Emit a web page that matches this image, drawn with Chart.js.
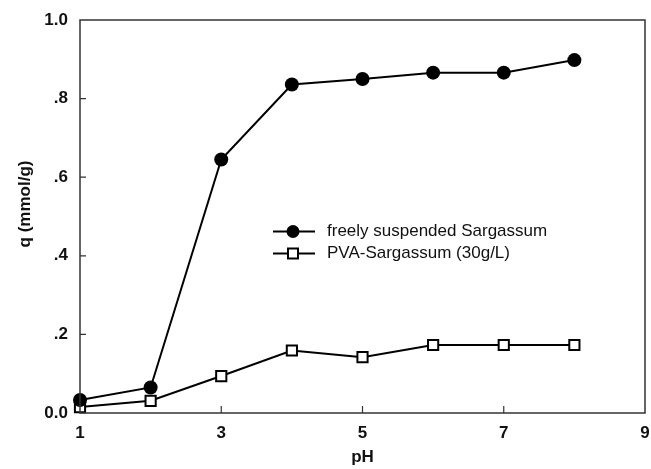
<!DOCTYPE html>
<html>
<head>
<meta charset="utf-8">
<script src="https://cdn.jsdelivr.net/npm/chart.js@4"></script>
<style>
html,body{margin:0;padding:0;background:#fff;overflow:hidden;}
#wrap{width:651px;height:469px;position:relative;}
canvas{display:block;}
</style>
</head>
<body>
<div id="wrap"><canvas id="c" width="651" height="469"></canvas></div>
<script>
const phValues = [1, 2, 3, 4, 5, 6, 7, 8];
const freelySuspended = [0.033, 0.065, 0.645, 0.836, 0.850, 0.866, 0.866, 0.898];
const pvaSargassum = [0.015, 0.031, 0.094, 0.159, 0.142, 0.173, 0.173, 0.173];
const seriesLabels = ['freely suspended Sargassum', 'PVA-Sargassum (30g/L)'];
const xTickLabels = ['1', '3', '5', '7', '9'];
const yTickLabels = ['0.0', '.2', '.4', '.6', '.8', '1.0'];
const xTitle = 'pH';
const yTitle = 'q (mmol/g)';

const toPoints = (ys) => phValues.map((x, i) => ({x: x, y: ys[i]}));
const AXIS_COLOR = '#333';
const FONT = '"Liberation Sans", Arial, sans-serif';

const framePlugin = {
  id: 'frame',
  afterDraw(chart) {
    const ctx = chart.ctx;
    const a = chart.chartArea;
    const xs = chart.scales.x, ys = chart.scales.y;
    ctx.save();
    ctx.strokeStyle = AXIS_COLOR;
    ctx.lineWidth = 1.5;
    ctx.strokeRect(a.left, a.top, a.right - a.left, a.bottom - a.top);
    ctx.lineWidth = 1.2;
    ctx.beginPath();
    xs.ticks.forEach(t => {
      const px = xs.getPixelForValue(t.value);
      if (px > a.left + 1 && px < a.right - 1) {
        ctx.moveTo(px, a.bottom); ctx.lineTo(px, a.bottom - 7);
      }
    });
    ys.ticks.forEach(t => {
      const py = ys.getPixelForValue(t.value);
      if (py > a.top + 1 && py < a.bottom - 1) {
        ctx.moveTo(a.left, py); ctx.lineTo(a.left + 6, py);
      }
    });
    ctx.stroke();
    // x tick labels
    ctx.fillStyle = '#111';
    ctx.font = 'bold 17px ' + FONT;
    ctx.textAlign = 'center';
    ctx.textBaseline = 'middle';
    xs.ticks.forEach(t => {
      const i = xTickLabels.indexOf(String(t.value));
      if (i >= 0) ctx.fillText(xTickLabels[i], xs.getPixelForValue(t.value), a.bottom + 20);
    });
    // axis titles
    ctx.fillText(xTitle, (a.left + a.right) / 2, 457);
    ctx.save();
    ctx.translate(25, 204);
    ctx.rotate(-Math.PI / 2);
    ctx.fillText(yTitle, 0, 0);
    ctx.restore();
    // legend
    const rows = [231.5, 253.5];
    chart.data.datasets.forEach((ds, i) => {
      const y = rows[i];
      ctx.strokeStyle = '#000';
      ctx.lineWidth = 2;
      ctx.beginPath();
      ctx.moveTo(273, y); ctx.lineTo(315, y);
      ctx.stroke();
      if (ds.pointStyle === 'circle') {
        ctx.fillStyle = '#000';
        ctx.beginPath();
        ctx.arc(293, y, 6.5, 0, Math.PI * 2);
        ctx.fill();
      } else {
        ctx.fillStyle = '#fff';
        ctx.fillRect(288, y - 5, 10, 10);
        ctx.strokeRect(288, y - 5, 10, 10);
      }
      ctx.fillStyle = '#111';
      ctx.font = '17px ' + FONT;
      ctx.textAlign = 'left';
      ctx.textBaseline = 'middle';
      ctx.fillText(ds.label, 327, y);
    });
    ctx.restore();
  }
};

new Chart(document.getElementById('c'), {
  type: 'line',
  data: {
    datasets: [
      {
        label: seriesLabels[0],
        data: toPoints(freelySuspended),
        borderColor: '#000',
        borderWidth: 2,
        backgroundColor: '#000',
        pointStyle: 'circle',
        pointRadius: 7,
        pointBorderWidth: 0,
        pointBackgroundColor: '#000',
        tension: 0,
        clip: false
      },
      {
        label: seriesLabels[1],
        data: toPoints(pvaSargassum),
        borderColor: '#000',
        borderWidth: 2,
        backgroundColor: '#fff',
        pointStyle: 'rect',
        pointRadius: 7.2,
        pointBorderWidth: 2,
        pointBorderColor: '#000',
        pointBackgroundColor: '#fff',
        tension: 0,
        clip: false
      }
    ]
  },
  options: {
    responsive: false,
    animation: false,
    events: [],
    layout: { autoPadding: false, padding: { left: 0, right: 6, top: 20, bottom: 0 } },
    plugins: { legend: { display: false }, tooltip: { enabled: false } },
    scales: {
      x: {
        type: 'linear',
        min: 1, max: 9,
        grid: { display: false, drawTicks: false },
        border: { display: false },
        ticks: { stepSize: 2, display: false },
        afterFit(s) { s.height = 56; s.paddingLeft = 0; s.paddingRight = 0; }
      },
      y: {
        type: 'linear',
        min: 0, max: 1,
        grid: { display: false, drawTicks: false },
        border: { display: false },
        ticks: {
          stepSize: 0.2,
          padding: 12,
          color: '#111',
          font: { family: FONT, size: 17, weight: 'bold' },
          callback: (v) => yTickLabels[Math.round(v * 5)]
        },
        afterFit(s) { s.width = 80; s.paddingTop = 0; s.paddingBottom = 0; }
      }
    }
  },
  plugins: [framePlugin]
});
</script>
</body>
</html>
